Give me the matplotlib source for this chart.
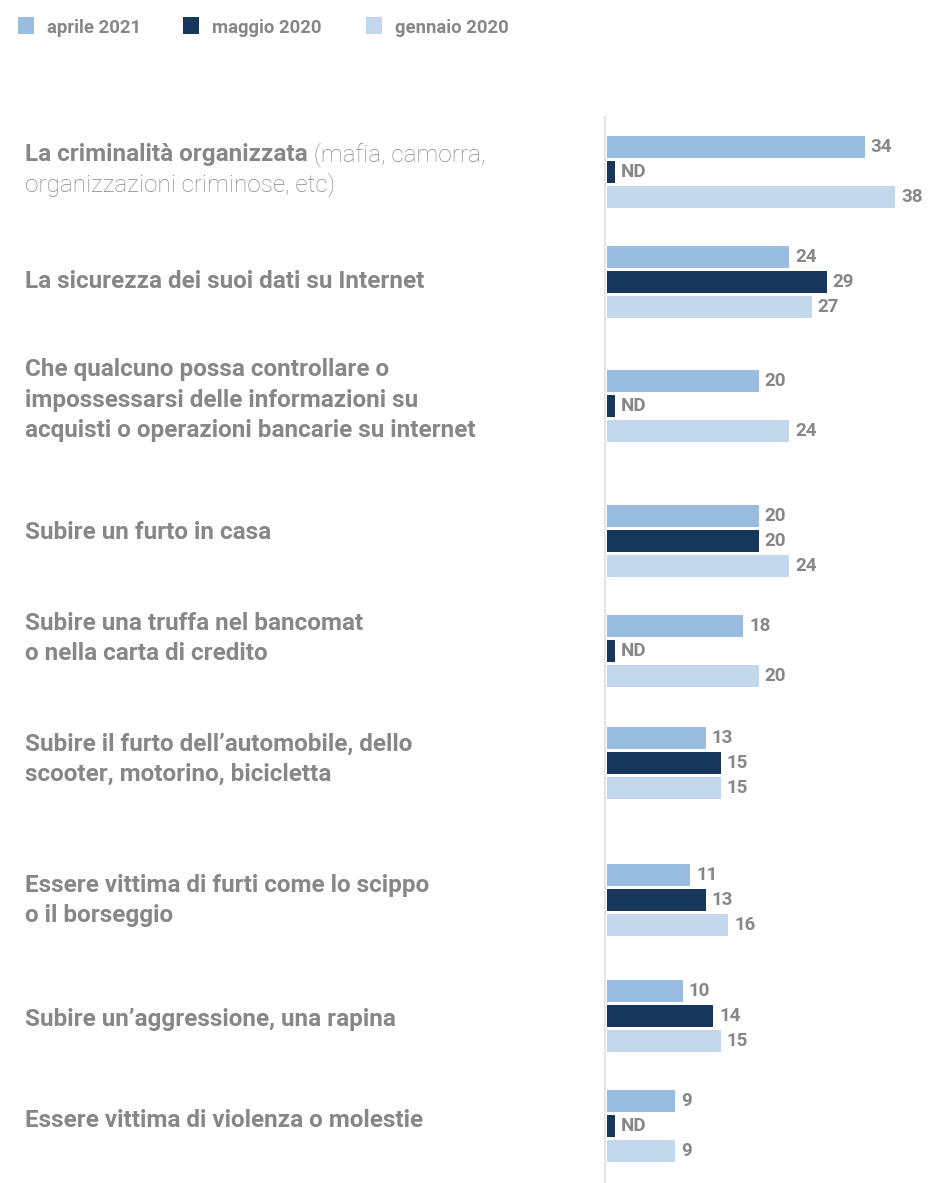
import matplotlib.pyplot as plt
from matplotlib.lines import Line2D

# dati: quote percentuali per tipo di preoccupazione
categories = [
    "La criminalità organizzata\norganizzazioni criminose, etc)",
    "La sicurezza dei suoi dati su Internet",
    "Che qualcuno possa controllare o\nimpossessarsi delle informazioni su\nacquisti o operazioni bancarie su internet",
    "Subire un furto in casa",
    "Subire una truffa nel bancomat\no nella carta di credito",
    "Subire il furto dell’automobile, dello\nscooter, motorino, bicicletta",
    "Essere vittima di furti come lo scippo\no il borseggio",
    "Subire un’aggressione, una rapina",
    "Essere vittima di violenza o molestie",
]
first_note = " (mafia, camorra,"
series_names = ["aprile 2021", "maggio 2020", "gennaio 2020"]
aprile_2021 = [34, 24, 20, 20, 18, 13, 11, 10, 9]
maggio_2020 = [None, 29, None, 20, None, 15, 13, 14, None]   # None = ND
gennaio_2020 = [38, 27, 24, 24, 20, 15, 16, 15, 9]

colors = ["#99bde0", "#16365b", "#c3d8ec"]
text_gray = "#878787"
nd_stub = 1.05

# layout in pixel (dall'alto)
W, H = 929, 1183
group_y = [172, 282, 406, 541, 651, 763, 900, 1016, 1126]
label_y = [167, 279, 398, 530, 636, 757, 898, 1017, 1118]
line_pitch = 30.5
bar_h = 22
bar_pitch = 25
x0 = 607
px_per_unit = 7.58

fig = plt.figure(figsize=(W / 100, H / 100), dpi=100)
ax = fig.add_axes([x0 / W, 0, (W - x0) / W, 1])
ax.set_xlim(0, (W - x0) / px_per_unit)
ax.set_ylim(H, 0)
ax.axis("off")

# linea verticale di base
fig.add_artist(Line2D([605.5 / W] * 2, [0, 1 - 117 / H], color="#e6e6e6", lw=1.6))

label_font = dict(family="Roboto", fontsize=17.5, color=text_gray)
value_font = dict(family="Roboto", fontsize=13.5, fontweight="bold", color=text_gray)

for s, values in enumerate([aprile_2021, maggio_2020, gennaio_2020]):
    for g, v in enumerate(values):
        y = group_y[g] + (s - 1) * bar_pitch
        w = nd_stub if v is None else v
        ax.barh(y, w, height=bar_h, color=colors[s], linewidth=0)
        txt = "ND" if v is None else str(v)
        ax.annotate(txt, (w, y), xytext=(6, 0), textcoords="offset pixels",
                    ha="left", va="center", **value_font)


def fy(y):
    return 1 - y / H


renderer = fig.canvas.get_renderer()
for g, cat in enumerate(categories):
    lines = cat.split("\n")
    n = len(lines)
    for k, line in enumerate(lines):
        y = label_y[g] + (k - (n - 1) / 2) * line_pitch
        weight = "bold"
        if g == 0 and k == 1:
            weight = "light"
        t = fig.text(25 / W, fy(y), line, ha="left", va="center_baseline",
                     fontweight=weight, **label_font)
        if g == 0 and k == 0:
            bb = t.get_window_extent(renderer)
            fig.text(bb.x1 / W, fy(y), first_note, ha="left", va="center_baseline",
                     fontweight="light", **label_font)

# legenda in alto
legend_sq_x = [18, 183, 366]
for s, name in enumerate(series_names):
    fig.add_artist(plt.Rectangle((legend_sq_x[s] / W, fy(34)), 16 / W, 17 / H,
                                 color=colors[s], lw=0))
    fig.text((legend_sq_x[s] + 29) / W, fy(26), name, ha="left", va="center_baseline",
             family="Roboto", fontsize=13.3, fontweight="bold", color=text_gray)

fig.savefig("out.png", dpi=100)
